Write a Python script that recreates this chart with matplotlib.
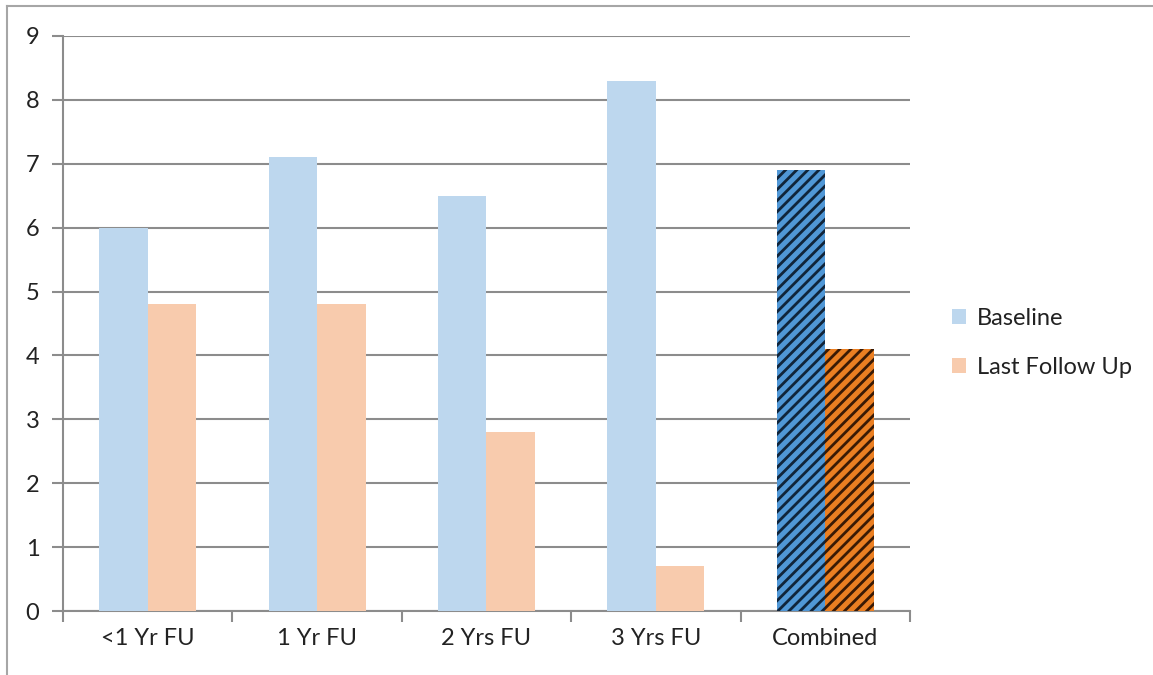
import matplotlib
matplotlib.use("Agg")
import matplotlib.pyplot as plt
import numpy as np
from matplotlib.lines import Line2D
from matplotlib.patches import Patch

categories = ["<1 Yr FU", "1 Yr FU", "2 Yrs FU", "3 Yrs FU", "Combined"]
baseline = [6.0, 7.1, 6.5, 8.3, 6.9]
last_follow_up = [4.8, 4.8, 2.8, 0.7, 4.1]
series_names = ["Baseline", "Last Follow Up"]

plt.rcParams["font.family"] = ["Lato", "DejaVu Sans"]
plt.rcParams["hatch.linewidth"] = 2.0

W, H = 1153, 675
fig = plt.figure(figsize=(W / 100, H / 100), dpi=100)
ax = fig.add_axes([63 / W, 64 / H, (910 - 63) / W, (611 - 36) / H])

grid_c = "#8c8c8c"
text_c = "#222222"
light_blue = "#BDD7EE"
light_orange = "#F8CBAD"
dark_blue = "#5097D6"
dark_orange = "#EB7F22"
fs = 17

x = np.arange(len(categories))
w = 0.286
for i in range(len(categories)):
    combined = categories[i] == "Combined"
    ax.bar(x[i] - w / 2, baseline[i], w,
           color=dark_blue if combined else light_blue,
           edgecolor="#10243a" if combined else "none",
           linewidth=0, hatch="///" if combined else None, zorder=3)
    ax.bar(x[i] + w / 2, last_follow_up[i], w,
           color=dark_orange if combined else light_orange,
           edgecolor="#3a1a05" if combined else "none",
           linewidth=0, hatch="///" if combined else None, zorder=3)

ax.set_xlim(-0.5, len(categories) - 0.5)
ax.set_ylim(0, 9)
ax.set_yticks(range(0, 10))
ax.yaxis.grid(True, color=grid_c, linewidth=1.5, zorder=0)
ax.set_axisbelow(True)

ax.set_xticks(np.arange(-0.5, len(categories)), minor=False)
ax.set_xticklabels([])
ax.set_xticks(x, minor=True)
ax.set_xticklabels(categories, minor=True, fontsize=fs, color=text_c)
ax.tick_params(axis="x", which="minor", length=0, pad=12)
ax.tick_params(axis="x", which="major", length=8, width=1.5, color=grid_c)
ax.tick_params(axis="y", length=8, width=1.5, color=grid_c, labelsize=fs,
               labelcolor=text_c, pad=9)

for s in ["top", "right"]:
    ax.spines[s].set_visible(False)
for s in ["left", "bottom"]:
    ax.spines[s].set_color(grid_c)
    ax.spines[s].set_linewidth(1.5)

handles = [Patch(facecolor=light_blue, edgecolor="none"),
           Patch(facecolor=light_orange, edgecolor="none")]
fig.legend(handles, series_names, loc="center left",
           bbox_to_anchor=(933 / W, 1 - 343 / H), frameon=False,
           fontsize=fs, handlelength=0.6, handleheight=0.6,
           handletextpad=0.45, labelspacing=1.2, labelcolor=text_c,
           borderpad=0.3)

# outer chart frame (left and top edges)
fig.add_artist(Line2D([7 / W, 7 / W], [0, 1 - 6 / H], color="#a6a6a6",
                      linewidth=1.5, transform=fig.transFigure))
fig.add_artist(Line2D([7 / W, 1], [1 - 6 / H, 1 - 6 / H], color="#a6a6a6",
                      linewidth=1.5, transform=fig.transFigure))

fig.savefig("out.png", dpi=100)
